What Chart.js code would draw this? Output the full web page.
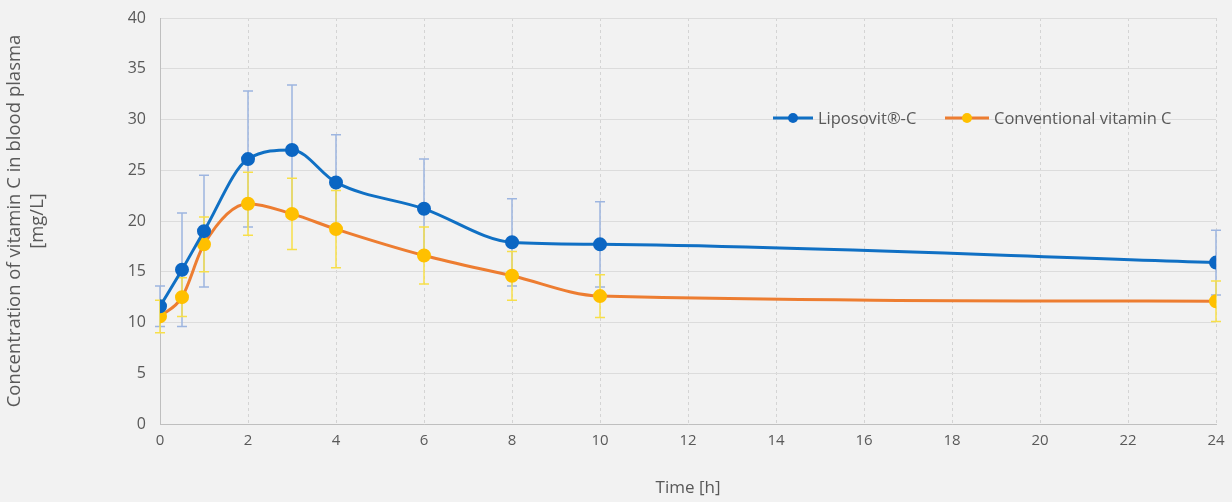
<!DOCTYPE html>
<html>
<head>
<meta charset="utf-8">
<script src="https://cdn.jsdelivr.net/npm/chart.js@4.4.1/dist/chart.umd.min.js"></script>
<style>
  html, body { margin: 0; padding: 0; background: #f2f2f2; }
  #wrap { width: 1232px; height: 502px; }
</style>
</head>
<body>
<div id="wrap"><canvas id="myChart" width="1232" height="502"></canvas></div>
<script>
const times = [0, 0.5, 1, 2, 3, 4, 6, 8, 10, 24];
const liposovit = [11.6, 15.2, 19.0, 26.1, 27.0, 23.8, 21.2, 17.9, 17.7, 15.9];
const liposovitSd = [2.0, 5.6, 5.5, 6.7, 6.4, 4.7, 4.9, 4.3, 4.2, 3.2];
const conventional = [10.6, 12.5, 17.7, 21.7, 20.7, 19.2, 16.6, 14.6, 12.6, 12.1];
const conventionalSd = [1.6, 1.9, 2.7, 3.1, 3.5, 3.8, 2.8, 2.4, 2.1, 2.0];
const seriesNames = ['Liposovit®-C', 'Conventional vitamin C'];

const textColor = '#595959';
const fontFamily = "'Open Sans', 'Liberation Sans', sans-serif";

const toPoints = (vals) => vals.map((v, i) => ({ x: times[i], y: v }));

// error bars, drawn behind the lines
const errorBars = {
  id: 'errorBars',
  beforeDatasetsDraw(chart) {
    const { ctx, scales: { x, y } } = chart;
    chart.data.datasets.forEach((ds) => {
      ctx.save();
      ctx.strokeStyle = ds.errColor;
      ctx.lineWidth = 1.5;
      ds.data.forEach((p, i) => {
        const sd = ds.sd[i];
        const px = x.getPixelForValue(p.x);
        const top = y.getPixelForValue(p.y + sd);
        const bot = y.getPixelForValue(p.y - sd);
        ctx.beginPath();
        ctx.moveTo(px, top); ctx.lineTo(px, bot);
        ctx.moveTo(px - 5, top); ctx.lineTo(px + 5, top);
        ctx.moveTo(px - 5, bot); ctx.lineTo(px + 5, bot);
        ctx.stroke();
      });
      ctx.restore();
    });
  }
};

// legend inside the plot like the original
const innerLegend = {
  id: 'innerLegend',
  afterDraw(chart) {
    const ctx = chart.ctx;
    const items = [
      { x: 773, w: 40 },
      { x: 945, w: 44 }
    ];
    const yy = 118;
    ctx.save();
    chart.data.datasets.forEach((ds, i) => {
      const it = items[i];
      ctx.strokeStyle = ds.borderColor;
      ctx.lineWidth = 3;
      ctx.beginPath();
      ctx.moveTo(it.x, yy); ctx.lineTo(it.x + it.w, yy);
      ctx.stroke();
      ctx.fillStyle = ds.pointBackgroundColor;
      ctx.beginPath();
      ctx.arc(it.x + it.w / 2, yy, 5, 0, Math.PI * 2);
      ctx.fill();
      ctx.fillStyle = textColor;
      ctx.font = '16.5px ' + fontFamily;
      ctx.textBaseline = 'middle';
      ctx.fillText(ds.label, it.x + it.w + 5, yy + 1);
    });
    ctx.restore();
  }
};

const ctx = document.getElementById('myChart');

new Chart(ctx, {
  type: 'line',
  data: {
    datasets: [{
      label: seriesNames[0],
      data: toPoints(liposovit),
      sd: liposovitSd,
      errColor: '#9db5e0',
      borderColor: '#1070c4',
      backgroundColor: '#1070c4',
      pointBackgroundColor: '#0b66c3',
      pointBorderColor: '#0b66c3',
      pointRadius: 5.5,
      borderWidth: 3,
      cubicInterpolationMode: 'monotone'
    }, {
      label: seriesNames[1],
      data: toPoints(conventional),
      sd: conventionalSd,
      errColor: '#f7df4a',
      borderColor: '#ed7d31',
      backgroundColor: '#ed7d31',
      pointBackgroundColor: '#ffc000',
      pointBorderColor: '#ffc000',
      pointRadius: 5.5,
      borderWidth: 3,
      cubicInterpolationMode: 'monotone'
    }]
  },
  options: {
    responsive: false,
    animation: false,
    layout: { padding: { top: 18, right: 16, left: 2, bottom: 0 } },
    plugins: {
      legend: { display: false },
      tooltip: { enabled: false }
    },
    scales: {
      x: {
        type: 'linear',
        min: 0,
        max: 24,
        afterFit(scale) { scale.height = 78; scale.paddingLeft = 0; scale.paddingRight = 0; },
        ticks: { stepSize: 2, color: textColor, font: { size: 15, family: fontFamily }, padding: 8 },
        grid: { color: '#d4d4d4', drawTicks: false },
        border: { color: '#bfbfbf', dash: [3, 3] },
        title: { display: true, text: 'Time [h]', color: textColor, font: { size: 17, family: fontFamily }, padding: { top: 16 } }
      },
      y: {
        min: 0,
        max: 40,
        afterFit(scale) { scale.width = 158; scale.paddingTop = 0; scale.paddingBottom = 0; },
        ticks: { stepSize: 5, color: textColor, font: { size: 16, family: fontFamily }, padding: 14 },
        grid: { color: '#dcdcdc', drawTicks: false },
        border: { color: '#bfbfbf' },
        title: {
          display: true,
          text: ['Concentration of vitamin C in blood plasma', '[mg/L]'],
          color: textColor,
          font: { size: 18.5, family: fontFamily },
          padding: { top: 2, bottom: 0 }
        }
      }
    }
  },
  plugins: [errorBars, innerLegend]
});
</script>
</body>
</html>
